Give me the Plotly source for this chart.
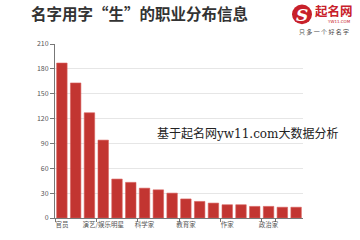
import plotly.graph_objects as go

categories = ["官员", "商人", "军人", "演艺/娱乐明星", "运动员", "医生", "科学家", "画家", "律师",
              "教育家", "音乐家", "工程师", "作家", "记者", "企业家", "政治家", "学者", "导演"]
values = [187, 163, 127, 94, 47, 43, 36, 34, 30, 23, 20, 18, 16, 16, 14, 14, 13, 13]
shown_labels = [categories[i] for i in range(0, len(categories), 3)]
y_ticks = [0, 30, 60, 90, 120, 150, 180, 210]

title_text = "名字用字“生”的职业分布信息"
watermark = "基于起名网yw11.com大数据分析"

CJK = "Noto Sans CJK SC, sans-serif"

fig = go.Figure()
fig.add_trace(go.Bar(
    x=categories, y=values,
    marker=dict(color="#c23531", line=dict(color="#d9605c", width=0.6)),
    width=0.76,
))

fig.update_layout(
    width=360, height=240,
    margin=dict(l=55, r=57, t=44, b=11, pad=0),
    paper_bgcolor="white", plot_bgcolor="white",
    showlegend=False,
    font=dict(family=CJK, color="#666", size=7),
    xaxis=dict(
        type="category",
        tickmode="array", tickvals=shown_labels, ticktext=shown_labels,
        tickangle=0,
        tickson="boundaries", ticks="outside", ticklen=3, tickcolor="#777",
        showline=True, linecolor="#777", linewidth=1,
        showgrid=False,
        tickfont=dict(size=6.5, color="#555"),
        range=[-0.5, len(categories) - 0.5],
    ),
    yaxis=dict(
        range=[0, 210], tickvals=y_ticks,
        ticks="outside", ticklen=4, tickcolor="#777",
        showline=True, linecolor="#777", linewidth=1,
        showgrid=True, gridcolor="#e6e6e6", gridwidth=1,
        zeroline=False,
        tickfont=dict(size=7, color="#555"),
    ),
    bargap=0.24,
)

anns = [
    dict(text="<b>" + title_text + "</b>", x=29, y=11.5, font=dict(size=15.5, color="#333", family=CJK),
         xanchor="left", yanchor="middle"),
    dict(text=watermark, x=155, y=139, font=dict(size=12, color="#222", family="DejaVu Serif, Noto Sans CJK SC, serif"),
         xanchor="left", yanchor="middle"),
    dict(text="<b>起名网</b>", x=313, y=8, font=dict(size=12.5, color="#c8202a", family=CJK),
         xanchor="left", yanchor="middle"),
    dict(text="YW11.COM", x=339, y=20.5, font=dict(size=4, color="#c8202a", family="DejaVu Sans"),
         xanchor="center", yanchor="middle"),
    dict(text="只 多 一 个 好 名 字", x=324, y=31, font=dict(size=6, color="#444", family=CJK),
         xanchor="center", yanchor="middle"),
    dict(text="<b><i>S</i></b>", x=302, y=13, font=dict(size=17, color="white", family="DejaVu Serif"),
         xanchor="center", yanchor="middle"),
]
for a in anns:
    a.update(xref="paper", yref="paper", showarrow=False)
    a["x"] = (a["x"] - 55) / (360 - 55 - 57)
    a["y"] = 1 - (a["y"] - 44) / (240 - 44 - 11)
    fig.add_annotation(**a)

cx0, cx1, cy0, cy1 = 292, 312, 2, 23
fig.add_shape(type="circle", xref="paper", yref="paper",
              x0=(cx0 - 55) / 248, x1=(cx1 - 55) / 248,
              y0=1 - (cy1 - 44) / 185, y1=1 - (cy0 - 44) / 185,
              fillcolor="#c8202a", line=dict(width=0), layer="below")

fig.write_html("out.html")
